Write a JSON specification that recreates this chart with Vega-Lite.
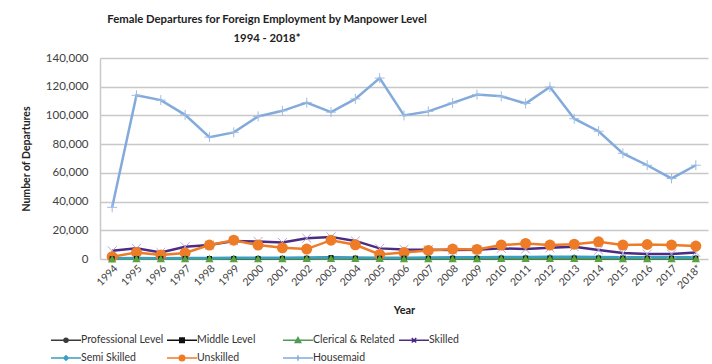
{
  "$schema": "https://vega.github.io/schema/vega-lite/v6.json",
  "autosize": {"type": "none"},
  "width": 608,
  "height": 201,
  "padding": {"left": 100, "top": 58, "right": 4, "bottom": 105},
  "background": "white",
  "config": {
    "view": {"stroke": null},
    "font": "Lato"
  },
  "title": {
    "text": ["Female Departures for Foreign Employment by Manpower Level", "1994 - 2018*"],
    "font": "Lato",
    "fontSize": 11.3,
    "fontWeight": "bold",
    "color": "#222222",
    "lineHeight": 19,
    "anchor": "middle",
    "dx": -137,
    "offset": 8
  },
  "data": {
    "values": [
      {"Year": "1994", "Professional Level": 100, "Middle Level": 200, "Clerical & Related": 150, "Skilled": 5700, "Semi Skilled": 600, "Unskilled": 1600, "Housemaid": 36000},
      {"Year": "1995", "Professional Level": 150, "Middle Level": 250, "Clerical & Related": 200, "Skilled": 7400, "Semi Skilled": 700, "Unskilled": 4600, "Housemaid": 114000},
      {"Year": "1996", "Professional Level": 150, "Middle Level": 250, "Clerical & Related": 200, "Skilled": 4600, "Semi Skilled": 600, "Unskilled": 2800, "Housemaid": 110700},
      {"Year": "1997", "Professional Level": 200, "Middle Level": 300, "Clerical & Related": 250, "Skilled": 8500, "Semi Skilled": 700, "Unskilled": 4200, "Housemaid": 100400},
      {"Year": "1998", "Professional Level": 200, "Middle Level": 350, "Clerical & Related": 250, "Skilled": 9700, "Semi Skilled": 700, "Unskilled": 9700, "Housemaid": 84900},
      {"Year": "1999", "Professional Level": 250, "Middle Level": 400, "Clerical & Related": 300, "Skilled": 12600, "Semi Skilled": 800, "Unskilled": 13100, "Housemaid": 88200},
      {"Year": "2000", "Professional Level": 250, "Middle Level": 400, "Clerical & Related": 300, "Skilled": 12200, "Semi Skilled": 900, "Unskilled": 9700, "Housemaid": 99300},
      {"Year": "2001", "Professional Level": 300, "Middle Level": 450, "Clerical & Related": 300, "Skilled": 11500, "Semi Skilled": 900, "Unskilled": 7800, "Housemaid": 103200},
      {"Year": "2002", "Professional Level": 300, "Middle Level": 500, "Clerical & Related": 350, "Skilled": 14500, "Semi Skilled": 1000, "Unskilled": 6900, "Housemaid": 108900},
      {"Year": "2003", "Professional Level": 350, "Middle Level": 1000, "Clerical & Related": 350, "Skilled": 15400, "Semi Skilled": 1000, "Unskilled": 13100, "Housemaid": 102300},
      {"Year": "2004", "Professional Level": 350, "Middle Level": 600, "Clerical & Related": 400, "Skilled": 12600, "Semi Skilled": 1000, "Unskilled": 9900, "Housemaid": 111500},
      {"Year": "2005", "Professional Level": 300, "Middle Level": 500, "Clerical & Related": 350, "Skilled": 7400, "Semi Skilled": 900, "Unskilled": 3200, "Housemaid": 126000},
      {"Year": "2006", "Professional Level": 300, "Middle Level": 500, "Clerical & Related": 300, "Skilled": 6700, "Semi Skilled": 900, "Unskilled": 4600, "Housemaid": 100000},
      {"Year": "2007", "Professional Level": 300, "Middle Level": 500, "Clerical & Related": 300, "Skilled": 6500, "Semi Skilled": 1000, "Unskilled": 6000, "Housemaid": 102800},
      {"Year": "2008", "Professional Level": 350, "Middle Level": 550, "Clerical & Related": 300, "Skilled": 6200, "Semi Skilled": 1300, "Unskilled": 6900, "Housemaid": 108700},
      {"Year": "2009", "Professional Level": 350, "Middle Level": 550, "Clerical & Related": 300, "Skilled": 6500, "Semi Skilled": 1300, "Unskilled": 6700, "Housemaid": 114500},
      {"Year": "2010", "Professional Level": 400, "Middle Level": 600, "Clerical & Related": 350, "Skilled": 7400, "Semi Skilled": 1400, "Unskilled": 9700, "Housemaid": 113300},
      {"Year": "2011", "Professional Level": 400, "Middle Level": 600, "Clerical & Related": 350, "Skilled": 6900, "Semi Skilled": 1400, "Unskilled": 10800, "Housemaid": 108300},
      {"Year": "2012", "Professional Level": 400, "Middle Level": 600, "Clerical & Related": 350, "Skilled": 7800, "Semi Skilled": 1500, "Unskilled": 9700, "Housemaid": 119800},
      {"Year": "2013", "Professional Level": 400, "Middle Level": 600, "Clerical & Related": 350, "Skilled": 8500, "Semi Skilled": 1500, "Unskilled": 10300, "Housemaid": 97700},
      {"Year": "2014", "Professional Level": 400, "Middle Level": 600, "Clerical & Related": 350, "Skilled": 6200, "Semi Skilled": 1400, "Unskilled": 12000, "Housemaid": 89000},
      {"Year": "2015", "Professional Level": 350, "Middle Level": 550, "Clerical & Related": 300, "Skilled": 4100, "Semi Skilled": 1300, "Unskilled": 9700, "Housemaid": 73600},
      {"Year": "2016", "Professional Level": 350, "Middle Level": 500, "Clerical & Related": 300, "Skilled": 3400, "Semi Skilled": 1300, "Unskilled": 10100, "Housemaid": 65300},
      {"Year": "2017", "Professional Level": 300, "Middle Level": 500, "Clerical & Related": 300, "Skilled": 3400, "Semi Skilled": 1200, "Unskilled": 9700, "Housemaid": 56100},
      {"Year": "2018*", "Professional Level": 300, "Middle Level": 500, "Clerical & Related": 300, "Skilled": 4600, "Semi Skilled": 1200, "Unskilled": 9000, "Housemaid": 65300}
    ]
  },
  "transform": [
    {"fold": ["Professional Level", "Middle Level", "Clerical & Related", "Skilled", "Semi Skilled", "Unskilled", "Housemaid"], "as": ["series", "value"]}
  ],
  "encoding": {
    "x": {
      "field": "Year", "type": "ordinal", "sort": null,
      "scale": {"type": "point", "padding": 0.5},
      "axis": {
        "title": "Year", "titleFont": "Lato", "titleFontSize": 11, "titleFontWeight": "bold", "titleColor": "#222222", "titlePadding": 14,
        "labelAngle": -45, "labelFontSize": 10.5, "labelColor": "#404040", "labelPadding": 4,
        "ticks": false, "domain": false, "grid": false
      }
    },
    "y": {
      "field": "value", "type": "quantitative",
      "scale": {"domain": [0, 140000], "nice": false},
      "axis": {
        "title": "Number of Departures", "titleFont": "Lato", "titleFontSize": 10.5, "titleFontWeight": "bold", "titleColor": "#222222", "titlePadding": 14,
        "format": ",.0f", "values": [0, 20000, 40000, 60000, 80000, 100000, 120000, 140000], "labelOverlap": false,
        "labelFontSize": 11.5, "labelColor": "#404040", "labelPadding": 12,
        "ticks": false, "domain": true, "domainColor": "#c8c8c8", "domainWidth": 1.5,
        "grid": true, "gridColor": "#c8c8c8", "gridWidth": 1.5
      }
    },
    "color": {
      "field": "series", "type": "nominal",
      "scale": {
        "domain": ["Professional Level", "Middle Level", "Clerical & Related", "Skilled", "Semi Skilled", "Unskilled", "Housemaid"],
        "range": ["#3a3a3a", "#111111", "#4f9a55", "#4b2c84", "#3a9fc0", "#ee7b26", "#82aadb"]
      },
      "legend": {
        "title": null,
        "orient": "none",
        "legendX": -50,
        "legendY": 276,
        "direction": "horizontal",
        "columns": 4,
        "gridAlign": "all",
        "columnPadding": 0,
        "rowPadding": 6,
        "labelFont": "Lato",
        "labelFontSize": 10.5,
        "labelColor": "#333333",
        "labelOffset": 19,
        "symbolSize": 100,
        "symbolStrokeWidth": 1.5,
        "encode": {
          "symbols": {
            "update": {
              "opacity": {"value": 1},
              "fillOpacity": {"value": 1},
              "strokeOpacity": {"value": 1},
              "fill": {"signal": "datum.value === 'Clerical & Related' ? '#8db04a' : datum.value === 'Housemaid' ? '#9dbde2' : datum.value === 'Semi Skilled' ? '#4aa6d5' : scale('color', datum.value)"},
              "stroke": {"signal": "datum.value === 'Clerical & Related' ? '#8db04a' : datum.value === 'Housemaid' ? '#9dbde2' : datum.value === 'Semi Skilled' ? '#4aa6d5' : scale('color', datum.value)"},
              "strokeWidth": {"value": 1.5},
              "size": {"value": 100},
              "shape": {"signal": "datum.value === 'Professional Level' ? 'M-1,0H5M2.4,0A0.4,0.4 0 1,1 1.6,0A0.4,0.4 0 1,1 2.4,0Z' : datum.value === 'Middle Level' ? 'M-1,0H5M1.55,-0.45H2.45V0.45H1.55Z' : datum.value === 'Clerical & Related' ? 'M-1,0H5M2,-0.55L2.55,0.45H1.45Z' : datum.value === 'Skilled' ? 'M-1,0H5M1.55,-0.45L2.45,0.45M1.55,0.45L2.45,-0.45' : datum.value === 'Semi Skilled' ? 'M-1,0H5M2,-0.45L2.45,0L2,0.45L1.55,0Z' : datum.value === 'Unskilled' ? 'M-1,0H5M2.55,0A0.55,0.55 0 1,1 1.45,0A0.55,0.55 0 1,1 2.55,0Z' : 'M-1,0H5M2,-0.55V0.55'"}
            }
          }
        }
      }
    }
  },
  "layer": [
    {
      "mark": {"type": "line", "strokeWidth": 2.5},
      "encoding": {"detail": {"field": "series"}}
    },
    {
      "transform": [{"filter": "datum.series === 'Housemaid'"}],
      "mark": {"type": "point", "shape": "M-1,0H1M0,-1V1", "filled": false, "size": 100, "strokeWidth": 1, "opacity": 1},
      "encoding": {"color": {"value": "#9fbde3"}}
    },
    {
      "transform": [{"filter": "datum.series === 'Skilled'"}],
      "mark": {"type": "point", "shape": "M-1,-1L1,1M-1,1L1,-1", "filled": false, "size": 80, "strokeWidth": 1, "opacity": 1},
      "encoding": {"color": {"value": "#b6a6dc"}}
    },
    {
      "transform": [{"filter": "datum.series === 'Unskilled'"}],
      "mark": {"type": "point", "shape": "circle", "filled": true, "size": 120, "opacity": 1}
    },
    {
      "transform": [{"filter": "datum.series === 'Semi Skilled'"}],
      "mark": {"type": "point", "shape": "diamond", "filled": true, "size": 30, "opacity": 1}
    },
    {
      "transform": [{"filter": "datum.series === 'Professional Level'"}],
      "mark": {"type": "point", "shape": "circle", "filled": true, "size": 20, "opacity": 1}
    },
    {
      "transform": [{"filter": "datum.series === 'Middle Level'"}],
      "mark": {"type": "point", "shape": "square", "filled": true, "size": 25, "opacity": 1}
    },
    {
      "transform": [{"filter": "datum.series === 'Clerical & Related'"}],
      "mark": {"type": "point", "shape": "triangle-up", "filled": true, "size": 70, "opacity": 1},
      "encoding": {"color": {"value": "#5aa23c"}}
    }
  ]
}
